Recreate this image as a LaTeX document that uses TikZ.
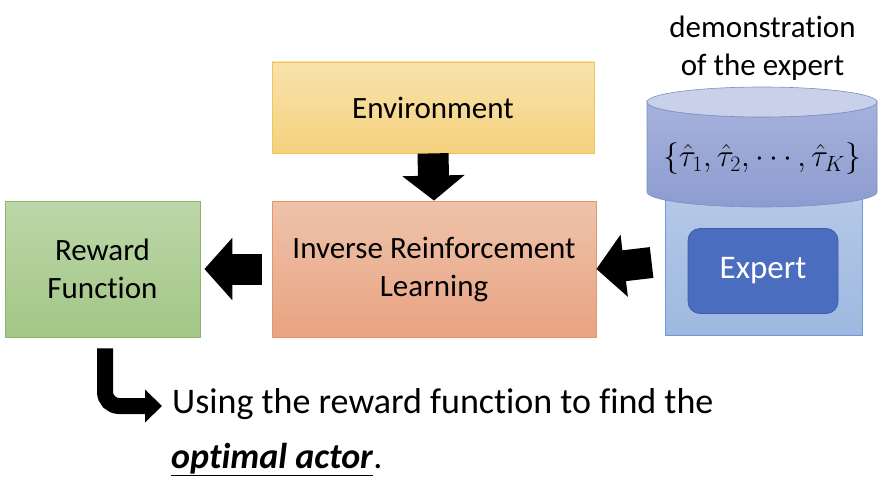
\documentclass[tikz,border=0pt]{standalone}
\usepackage{graphicx}
\usepackage{fontspec}
\setmainfont{Carlito}[Ligatures=NoCommon]
\usetikzlibrary{arrows.meta,calc}
\definecolor{envtop}{HTML}{F8E3AC}
\definecolor{envbot}{HTML}{F5D17D}
\definecolor{envline}{HTML}{F0C65A}
\definecolor{irltop}{HTML}{EEC3AB}
\definecolor{irlbot}{HTML}{E9A381}
\definecolor{irlline}{HTML}{E2966C}
\definecolor{rftop}{HTML}{BCD7A9}
\definecolor{rfbot}{HTML}{A3C685}
\definecolor{rfline}{HTML}{8DB36E}
\definecolor{bgtop}{HTML}{B6C9E8}
\definecolor{bgbot}{HTML}{9DB8E0}
\definecolor{bgline}{HTML}{7099D3}
\definecolor{cyltop}{HTML}{C8D0EA}
\definecolor{cylbodytop}{HTML}{A6B2DC}
\definecolor{cylbodybot}{HTML}{8D9CD0}
\definecolor{cylline}{HTML}{7E8EC6}
\definecolor{expfill}{HTML}{4A6DBF}
\definecolor{expline}{HTML}{3E5EA8}
\begin{document}
\begin{tikzpicture}[x=1pt,y=-1pt,
  box/.style={draw, line width=0.8pt, align=center, inner sep=0pt,
    font=\fontsize{31}{38}\selectfont},
  blockarrow/.style={draw=black, line width=31pt, -{Triangle[length=28pt,width=61pt]}},
  bottomtext/.style={anchor=base west, inner sep=0pt, font=\fontsize{36}{43}\selectfont}
]
\useasboundingbox (0,0) rectangle (880,481);
% boxes
\node[box, draw=envline, top color=envtop, bottom color=envbot,
  minimum width=322pt, minimum height=91pt] (env) at (433,107.5) {Environment};
\node[box, draw=irlline, top color=irltop, bottom color=irlbot,
  minimum width=324pt, minimum height=136pt] (irl) at (434,269) {Inverse Reinforcement\\Learning};
\node[box, draw=rfline, top color=rftop, bottom color=rfbot,
  minimum width=195pt, minimum height=136pt] (rf) at (102.5,269) {Reward\\Function};
% expert background
\node[box, draw=bgline, top color=bgtop, bottom color=bgbot,
  minimum width=197pt, minimum height=145pt] (exbg) at (763.5,262.5) {};
% cylinder
\draw[cylline, line width=0.6pt, top color=cylbodytop, bottom color=cylbodybot]
  (647,102) -- (647,192) arc (180:0:115 and 15) -- (877,102) arc (0:180:115 and 15) -- cycle;
\draw[cylline, line width=0.6pt, fill=cyltop] (762,102) ellipse (115 and 15);
\node[inner sep=0pt, font=\fontsize{24}{29}\selectfont] (demos) at (762,159)
  {\resizebox{198pt}{!}{$\{\hat{\tau}_1,\hat{\tau}_2,\cdots,\hat{\tau}_K\}$}};
\node[align=center, inner sep=0pt, anchor=base, font=\fontsize{31}{38}\selectfont] (dlabel) at (762.5,76)
  {demonstration\\of the expert};
% expert
\node[draw=expline, line width=0.8pt, fill=expfill, rounded corners=12pt, text=white,
  minimum width=150pt, minimum height=85pt, font=\fontsize{33}{40}\selectfont] (expert) at (763,271) {Expert};
% block arrows
\draw[blockarrow, -{Triangle[length=25pt,width=61pt]}] (env.south) -- (irl.north);
\draw[blockarrow] ($(irl.west)+(-10,0)$) -- ($(rf.east)+(4,0)$);
\draw[blockarrow] ($(exbg.west)+(-13,0)$) -- (irl.east);
% L arrow
\coordinate (lstart) at ($(rf.south)+(2.5,11)$);
\coordinate (lend) at (162,406);
\draw[black, line width=16pt, rounded corners=14pt, -{Triangle[length=17pt,width=32pt]}]
  (lstart) |- (lend);
% bottom text
\node[bottomtext] (use) at (172,413) {Using the reward function to find the};
\node[bottomtext] (opt) at (171,468) {\underline{\textbf{\textit{optimal actor}}}.};
\end{tikzpicture}
\end{document}
